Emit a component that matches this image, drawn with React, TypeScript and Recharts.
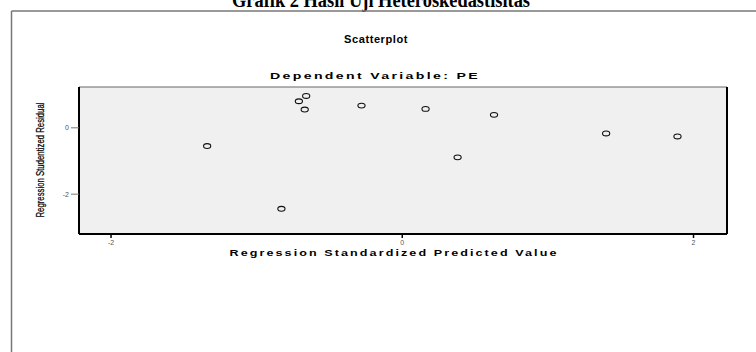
import { ScatterChart, Scatter, XAxis, YAxis, ReferenceArea, ReferenceLine } from 'recharts';

// values
const predicted = [-1.34, -0.83, -0.71, -0.66, -0.67, -0.28, 0.16, 0.38, 0.63, 1.4, 1.89];
const residual = [-0.55, -2.44, 0.8, 0.96, 0.55, 0.67, 0.57, -0.89, 0.39, -0.17, -0.26];
const xTicks = [-2, 0, 2];
const yTicks = [-2, 0];
const X_DOMAIN: [number, number] = [-2.22, 2.23];
const Y_DOMAIN: [number, number] = [-3.2, 1.23];

const points = predicted.map((x, i) => ({ x, y: residual[i] }));

const Ring = (props: any) => {
  const { cx, cy } = props;
  if (cx == null || cy == null) return null;
  return <ellipse cx={cx} cy={cy} rx={3.6} ry={2.4} fill="none" stroke="#111" strokeWidth={1.1} />;
};

const tickStyle = { fontSize: 7, fill: '#555', fontFamily: 'Liberation Sans, Arial, sans-serif' };
const wideBold = {
  textAnchor: 'middle' as const,
  fontFamily: 'Liberation Sans, Arial, sans-serif',
  fontWeight: 'bold',
  fontSize: 9,
  letterSpacing: 1.5,
  lengthAdjust: 'spacingAndGlyphs' as const,
  fill: '#000',
};

export default function App() {
  return (
    <div style={{ position: 'relative', width: 756, height: 352, background: '#fff', overflow: 'hidden' }}>
      <style>{'body{margin:0}'}</style>
      <ScatterChart width={756} height={352} margin={{ top: 87, right: 29, bottom: 96, left: 39 }}>
        <ReferenceArea x1={X_DOMAIN[0]} x2={X_DOMAIN[1]} y1={Y_DOMAIN[0]} y2={Y_DOMAIN[1]} fill="#f0f0f0" fillOpacity={1} stroke="none" />
        <XAxis
          type="number"
          dataKey="x"
          domain={X_DOMAIN}
          ticks={xTicks}
          allowDataOverflow
          tick={tickStyle}
          tickSize={4}
          tickLine={{ stroke: '#000', strokeWidth: 1.5 }}
          axisLine={{ stroke: '#000', strokeWidth: 2 }}
          height={22}
        />
        <YAxis
          type="number"
          dataKey="y"
          domain={Y_DOMAIN}
          ticks={yTicks}
          allowDataOverflow
          tick={tickStyle}
          tickSize={8}
          tickLine={{ stroke: '#777', strokeWidth: 1 }}
          axisLine={{ stroke: '#000', strokeWidth: 2 }}
          width={40}
        />
        <ReferenceLine y={Y_DOMAIN[1]} stroke="#666" strokeWidth={1} />
        <ReferenceLine x={X_DOMAIN[1]} stroke="#000" strokeWidth={2} />
        <Scatter data={points} shape={<Ring />} isAnimationActive={false} />
      </ScatterChart>
      <svg width={756} height={352} style={{ position: 'absolute', left: 0, top: 0, pointerEvents: 'none' }}>
        <text x={381} y={7} textAnchor="middle" fontFamily="Liberation Serif, Times New Roman, serif" fontWeight="bold" fontSize={21} textLength={298} lengthAdjust="spacingAndGlyphs" fill="#000">
          Grafik 2 Hasil Uji Heteroskedastisitas
        </text>
        <line x1={11.5} y1={11} x2={756} y2={11} stroke="#777" strokeWidth={1.5} />
        <line x1={11.5} y1={11} x2={11.5} y2={352} stroke="#777" strokeWidth={1.5} />
        <text x={376} y={43} {...wideBold} fontSize={10} letterSpacing={0.5} textLength={64}>
          Scatterplot
        </text>
        <text x={375} y={79} {...wideBold} textLength={210}>
          Dependent Variable: PE
        </text>
        <text x={394} y={256} {...wideBold} textLength={329}>
          Regression Standardized Predicted Value
        </text>
        <text
          x={0}
          y={0}
          transform="translate(44,160) rotate(-90)"
          textAnchor="middle"
          fontFamily="Liberation Sans Narrow, Liberation Sans, Arial, sans-serif"
          fontSize={11}
          fill="#000"
          stroke="#000"
          strokeWidth={0.25}
          textLength={115}
          lengthAdjust="spacingAndGlyphs"
        >
          Regression Studentized Residual
        </text>
      </svg>
    </div>
  );
}
